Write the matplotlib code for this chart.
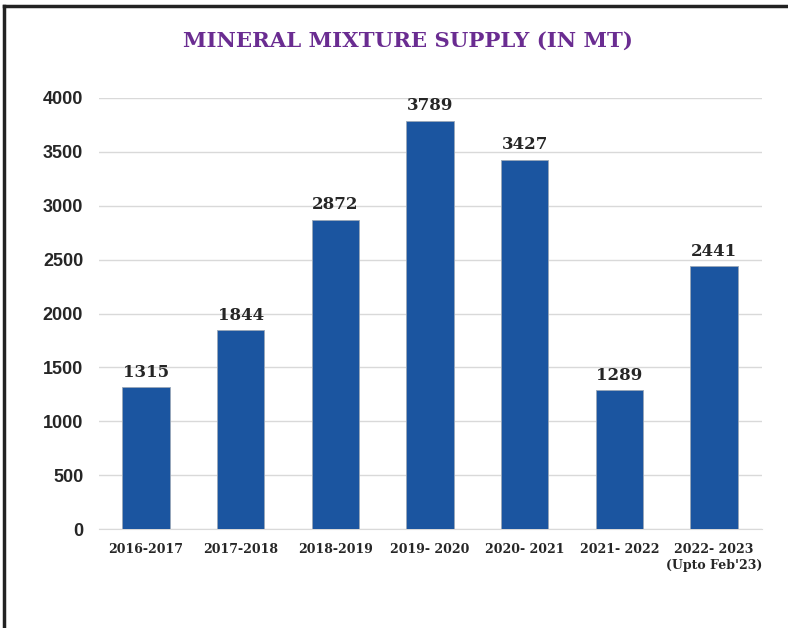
import matplotlib.pyplot as plt

years = ['2016-2017', '2017-2018', '2018-2019', '2019- 2020',
         '2020- 2021', '2021- 2022', '2022- 2023\n(Upto Feb\'23)']
supply = [1315, 1844, 2872, 3789, 3427, 1289, 2441]
yticks = [0, 500, 1000, 1500, 2000, 2500, 3000, 3500, 4000]

BAR = '#1B55A0'
TXT = '#262626'

fig = plt.figure(figsize=(7.88, 6.28), dpi=100)
ax = fig.add_axes([98.5 / 788, 1 - 529 / 628, 663 / 788, 431 / 628])

x = range(len(years))
bars = ax.bar(x, supply, width=0.5, color=BAR, edgecolor='#9aa7b8', linewidth=0.6, zorder=3)
for b, v in zip(bars, supply):
    ax.text(b.get_x() + b.get_width() / 2, v + 60, str(v), ha='center', va='bottom',
            fontsize=12, fontweight='bold', family='DejaVu Serif', color=TXT)

ax.set_xlim(-0.5, len(years) - 0.5)
ax.set_ylim(0, 4000)
ax.set_yticks(yticks)
ax.set_yticklabels([str(t) for t in yticks], fontsize=13, fontweight='bold',
                   family='Liberation Sans', color=TXT)
ax.set_xticks(list(x))
ax.set_xticklabels(years, fontsize=9, fontweight='bold', family='DejaVu Serif',
                   color=TXT, va='top', linespacing=1.3)
ax.tick_params(axis='both', length=0)
ax.tick_params(axis='y', pad=11)
ax.tick_params(axis='x', pad=10)
ax.grid(axis='y', color='#d9d9d9', linewidth=1, zorder=0)
for s in ['top', 'right', 'left']:
    ax.spines[s].set_visible(False)
ax.spines['bottom'].set_color('#d9d9d9')

fig.text(408 / 788, 1 - 41 / 628, 'MINERAL MIXTURE SUPPLY (IN MT)', ha='center', va='center',
         fontsize=15.3, fontweight='bold', family='DejaVu Serif', color='#6A2C91')

# outer frame (top and left edges visible)
fig.add_artist(plt.Line2D([4 / 788, 4 / 788], [0, 1 - 6 / 628], color='#222222',
                          linewidth=2.5, transform=fig.transFigure))
fig.add_artist(plt.Line2D([4 / 788, 1], [1 - 6 / 628, 1 - 6 / 628], color='#222222',
                          linewidth=2.5, transform=fig.transFigure))

fig.savefig('out.png', dpi=100)
